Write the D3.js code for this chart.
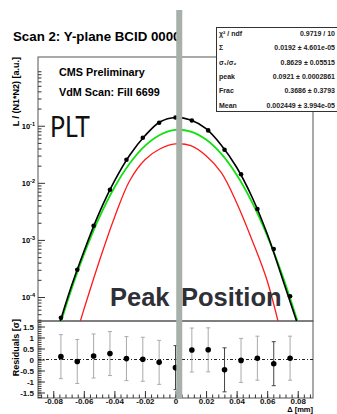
<!DOCTYPE html>
<html>
<head>
<meta charset="utf-8">
<script src="https://cdn.jsdelivr.net/npm/d3@7"></script>
<style>
  body { margin: 0; background: #fff; }
  svg { display: block; font-family: 'Liberation Sans', Arial, sans-serif; }
</style>
</head>
<body>
<div id="chart"></div>
<script>
// scan points (separation in mm) and normalised luminosity
const scanX = [-0.075, -0.0643, -0.0536, -0.0429, -0.0321, -0.0214, -0.0107, 0, 0.0107, 0.0214, 0.0321, 0.0429, 0.0536, 0.0643, 0.075];
const lumi = [4.34e-5, 3.01e-4, 1.77e-3, 7.57e-3, 0.0254, 0.0617, 0.1128, 0.1397, 0.1238, 0.0828, 0.0380, 0.01415, 3.48e-3, 6.93e-4, 1.03e-4];
const residuals = [0.13, -0.09, 0.16, 0.27, 0.04, 0.01, -0.13, -0.37, 0.43, 0.44, -0.47, -0.04, 0.06, -0.19, 0.06];
const residualErr = [1, 1, 1, 1, 1, 1, 1, 1, 1, 1, 1, 1, 1, 1, 1];
const darkErr = [false, false, false, false, false, false, false, true, false, false, true, false, false, true, false];

// fit curves: total, wide and narrow gaussian
const fitX = [-0.08, -0.07, -0.06, -0.05, -0.04, -0.03, -0.02, -0.01, 0, 0.01, 0.02, 0.03, 0.04, 0.05, 0.06, 0.07, 0.08];
const fitTotal = [1.44e-5, 1.10e-4, 6.21e-4, 2.94e-3, 0.01067, 0.0304, 0.0668, 0.1175, 0.1397, 0.1258, 0.0886, 0.0455, 0.01875, 5.71e-3, 1.28e-3, 2.09e-4, 3.3e-5];
const fitWide = [1.31e-5, 9.64e-5, 5.51e-4, 2.43e-3, 8.28e-3, 0.02178, 0.04427, 0.0695, 0.0844, 0.0791, 0.0573, 0.0321, 0.01387, 4.63e-3, 1.19e-3, 2.38e-4, 3.66e-5];
const fitNarrow = [1.0e-6, 7.98e-6, 6.0e-5, 4.15e-4, 2.45e-3, 0.01089, 0.0254, 0.0395, 0.0480, 0.0447, 0.0298, 0.01503, 4.48e-3, 1.01e-3, 1.93e-4, 1.79e-5, 1.0e-6];

const statNames = ['χ² / ndf', 'Σ', 'σ₁/σ₂', 'peak', 'Frac', 'Mean'];
const statValues = ['0.9719 / 10', '0.0192 ± 4.601e-05', '0.8629 ± 0.05515', '0.0921 ± 0.0002861', '0.3686 ± 0.3793', '0.002449 ± 3.994e-05'];

const xTicks = [-0.08, -0.06, -0.04, -0.02, 0, 0.02, 0.04, 0.06, 0.08];
const residTicks = [-1.5, -1, -0.5, 0, 0.5, 1, 1.5];
const logTicks = [1e-1, 1e-2, 1e-3, 1e-4];
const logExp = ['-1', '-2', '-3', '-4'];
const peakMean = 0.002449;

const width = 337, height = 414;
const padL = 38, padR = 313, padT = 57, padMid = 321, padB = 398;

const svg = d3.select('#chart').append('svg')
  .attr('width', width).attr('height', height)
  .attr('viewBox', `0 0 ${width} ${height}`);
svg.append('rect').attr('width', width).attr('height', height).attr('fill', '#fff');

const x = d3.scaleLinear().domain([-0.09, 0.09]).range([padL, padR]);
const y = d3.scaleLog().domain([3.8e-5, 1.6]).range([padMid, padT]);
const yr = d3.scaleLinear().domain([-1.75, 1.75]).range([padB, padMid]);

const defs = svg.append('defs');
defs.append('clipPath').attr('id', 'mainClip')
  .append('rect').attr('x', padL).attr('y', padT).attr('width', padR - padL).attr('height', padMid - padT);
defs.append('clipPath').attr('id', 'titleClip')
  .append('rect').attr('x', 0).attr('y', 0).attr('width', 178).attr('height', 60);

// title (cut by the marker bar)
svg.append('text')
  .attr('x', 13).attr('y', 41)
  .attr('clip-path', 'url(#titleClip)')
  .style('font-size', '13.3px').style('font-weight', 'bold')
  .text('Scan 2: Y-plane BCID 0000');

// frames
svg.append('rect').attr('x', padL).attr('y', padT).attr('width', padR - padL).attr('height', padMid - padT)
  .attr('fill', 'none').attr('stroke', '#555').attr('stroke-width', 1);
svg.append('rect').attr('x', padL).attr('y', padMid).attr('width', padR - padL).attr('height', padB - padMid)
  .attr('fill', 'none').attr('stroke', '#555').attr('stroke-width', 1);

// log axis, ticks inside
const minorLog = [];
for (let e = -5; e <= 0; e++) for (let m = 2; m <= 9; m++) {
  const v = m * Math.pow(10, e);
  if (v > y.domain()[0] && v < y.domain()[1]) minorLog.push(v);
}
const yAxis = svg.append('g').attr('transform', `translate(${padL},0)`);
yAxis.call(d3.axisLeft(y).tickValues(logTicks).tickSize(-7).tickFormat(''));
yAxis.append('g').call(d3.axisLeft(y).tickValues(minorLog).tickSize(-3.5).tickFormat(''));
yAxis.selectAll('.domain').remove();
yAxis.selectAll('line').attr('stroke', '#333');

const yLab = svg.append('g').selectAll('text').data(logTicks).enter().append('text')
  .attr('x', 35).attr('y', d => y(d) + 3)
  .attr('text-anchor', 'end')
  .style('font-size', '7.5px').style('font-weight', 'bold');
yLab.append('tspan').text('10');
yLab.append('tspan').attr('dy', -3).style('font-size', '5.5px').text((d, i) => logExp[i]);

// residual axis
const rAxis = svg.append('g').attr('transform', `translate(${padL},0)`);
rAxis.call(d3.axisLeft(yr).tickValues(residTicks).tickSize(-7).tickPadding(4).tickFormat(d => String(d)));
rAxis.append('g').call(d3.axisLeft(yr).tickValues(d3.range(-17, 18).map(d => d / 10)).tickSize(-3.5).tickFormat(''));
rAxis.selectAll('.domain').remove();
rAxis.selectAll('line').attr('stroke', '#333');
rAxis.selectAll('text').style('font-size', '8px').style('font-weight', 'bold').attr('fill', '#111');

// x axis
const xAxis = svg.append('g').attr('transform', `translate(0,${padB})`);
xAxis.call(d3.axisBottom(x).tickValues(xTicks).tickSize(-7).tickPadding(0.5).tickFormat(d => String(d)));
xAxis.append('g').call(d3.axisBottom(x).tickValues(d3.range(-22, 23).map(d => d * 0.004)).tickSize(-3.5).tickFormat(''));
xAxis.selectAll('.domain').remove();
xAxis.selectAll('line').attr('stroke', '#333');
xAxis.selectAll('text').style('font-size', '8px').style('font-weight', 'bold').attr('fill', '#111');

// axis titles
svg.append('text').attr('transform', `translate(19,${padT}) rotate(-90)`)
  .attr('text-anchor', 'end').style('font-size', '9px').style('font-weight', 'bold')
  .text('L / (N1*N2) [a.u.]');
svg.append('text').attr('transform', `translate(19,319) rotate(-90)`)
  .attr('text-anchor', 'end').style('font-size', '9px').style('font-weight', 'bold')
  .text('Residuals [σ]');
svg.append('text').attr('x', padR).attr('y', 412.3)
  .attr('text-anchor', 'end').style('font-size', '7.5px').style('font-weight', 'bold')
  .text('Δ [mm]');

// fit curves
const plot = svg.append('g').attr('clip-path', 'url(#mainClip)');
const line = d3.line().x(d => x(d[0])).y(d => y(d[1])).curve(d3.curveCatmullRom);
const curves = [
  { vals: fitNarrow, color: '#ff1a1a', w: 1.3 },
  { vals: fitWide, color: '#11e011', w: 1.8 },
  { vals: fitTotal, color: '#000', w: 1.6 }
];
curves.forEach(c => {
  plot.append('path')
    .datum(fitX.map((v, i) => [v, c.vals[i]]))
    .attr('d', line)
    .attr('fill', 'none').attr('stroke', c.color).attr('stroke-width', c.w);
});

plot.selectAll('.pt').data(scanX).enter().append('circle')
  .attr('cx', d => x(d)).attr('cy', (d, i) => y(lumi[i]))
  .attr('r', 2.3).attr('fill', '#000');

// residuals
svg.append('line').attr('x1', padL).attr('x2', padR).attr('y1', yr(0)).attr('y2', yr(0))
  .attr('stroke', '#222').attr('stroke-dasharray', '3,2,1,2');
const res = svg.append('g').selectAll('g').data(scanX).enter().append('g');
res.append('line')
  .attr('x1', d => x(d)).attr('x2', d => x(d))
  .attr('y1', (d, i) => yr(residuals[i] - residualErr[i]))
  .attr('y2', (d, i) => yr(residuals[i] + residualErr[i]))
  .attr('stroke', (d, i) => darkErr[i] ? '#444' : '#aaa');
[-1, 1].forEach(s => {
  res.append('line')
    .attr('x1', d => x(d) - 2).attr('x2', d => x(d) + 2)
    .attr('y1', (d, i) => yr(residuals[i] + s * residualErr[i]))
    .attr('y2', (d, i) => yr(residuals[i] + s * residualErr[i]))
    .attr('stroke', (d, i) => darkErr[i] ? '#444' : '#aaa');
});
res.append('circle')
  .attr('cx', d => x(d)).attr('cy', (d, i) => yr(residuals[i]))
  .attr('r', 2.8).attr('fill', '#000');

// labels inside the plot
svg.append('text').attr('x', 59).attr('y', 76)
  .style('font-size', '10.8px').style('font-weight', 'bold').text('CMS Preliminary');
svg.append('text').attr('x', 59).attr('y', 96)
  .style('font-size', '10.8px').style('font-weight', 'bold').text('VdM Scan: Fill 6699');
svg.append('text').attr('x', 50).attr('y', 137)
  .attr('textLength', 40).attr('lengthAdjust', 'spacingAndGlyphs')
  .style('font-family', 'Lato, sans-serif').style('font-size', '28px').attr('fill', '#111')
  .text('PLT');

// stats box
const box = svg.append('g');
box.append('rect').attr('x', 216.5).attr('y', 27.5).attr('width', 130).attr('height', 84)
  .attr('fill', '#fff').attr('stroke', '#333');
statNames.forEach((s, i) => {
  const yy = 36 + i * 14.3;
  box.append('text').attr('x', 219).attr('y', yy)
    .style('font-size', '7px').style('font-weight', 'bold').attr('fill', '#222').text(s);
  box.append('text').attr('x', 335).attr('y', yy).attr('text-anchor', 'end')
    .style('font-size', '7px').style('font-weight', 'bold').attr('fill', '#222').text(statValues[i]);
});

// peak position marker
svg.append('rect')
  .attr('x', x(peakMean) - 3).attr('y', 10).attr('width', 6).attr('height', padB - 10)
  .attr('fill', '#a7b0aa');

const pk = svg.append('text').attr('y', 305.5)
  .style('font-size', '25.5px').style('font-weight', 'bold').attr('fill', '#2f2f38');
pk.append('tspan').attr('x', 110).text('Peak');
pk.append('tspan').attr('x', 181).text('Position');
</script>
</body>
</html>
